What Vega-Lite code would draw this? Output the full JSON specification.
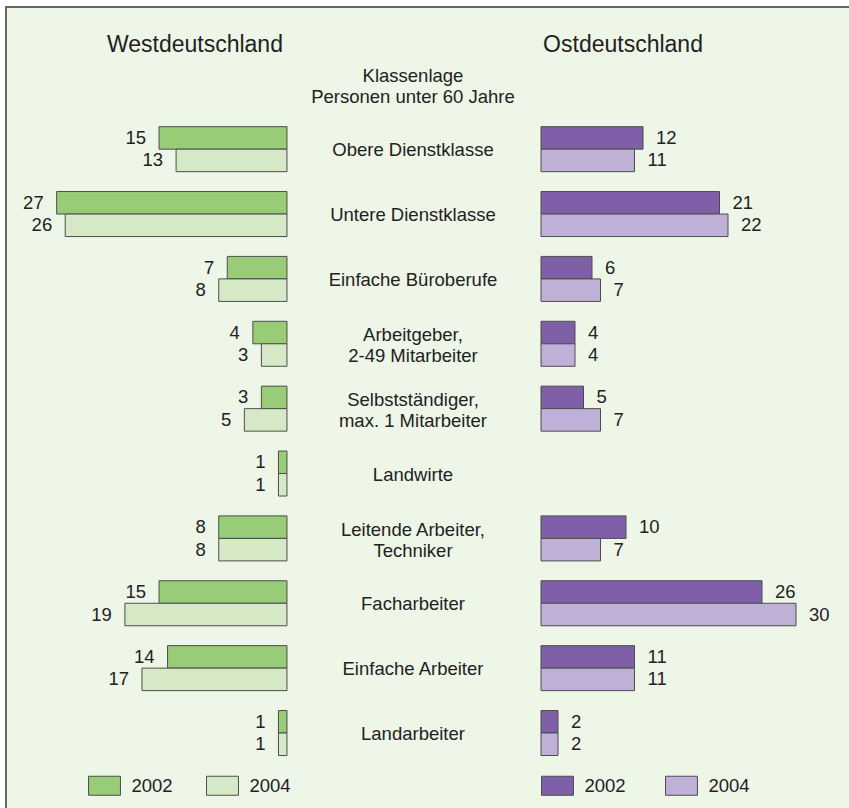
{
  "$schema": "https://vega.github.io/schema/vega-lite/v6.json",
  "width": 849,
  "height": 808,
  "autosize": {"type": "fit", "contains": "padding"},
  "padding": {"left": 6, "top": 7, "right": -6, "bottom": -6},
  "background": "white",
  "config": {
    "view": {"fill": "#eef6e8", "stroke": "#666666", "strokeWidth": 2},
    "font": "Liberation Sans",
    "text": {"font": "Liberation Sans", "fontSize": 18.5, "color": "#222222", "baseline": "middle"}
  },
  "datasets": {
    "d": [
      {"kl": "Obere Dienstklasse", "jahr": "2002", "west": 15, "ost": 12},
      {"kl": "Obere Dienstklasse", "jahr": "2004", "west": 13, "ost": 11},
      {"kl": "Untere Dienstklasse", "jahr": "2002", "west": 27, "ost": 21},
      {"kl": "Untere Dienstklasse", "jahr": "2004", "west": 26, "ost": 22},
      {"kl": "Einfache Büroberufe", "jahr": "2002", "west": 7, "ost": 6},
      {"kl": "Einfache Büroberufe", "jahr": "2004", "west": 8, "ost": 7},
      {"kl": "Arbeitgeber,\n2-49 Mitarbeiter", "jahr": "2002", "west": 4, "ost": 4},
      {"kl": "Arbeitgeber,\n2-49 Mitarbeiter", "jahr": "2004", "west": 3, "ost": 4},
      {"kl": "Selbstständiger,\nmax. 1 Mitarbeiter", "jahr": "2002", "west": 3, "ost": 5},
      {"kl": "Selbstständiger,\nmax. 1 Mitarbeiter", "jahr": "2004", "west": 5, "ost": 7},
      {"kl": "Landwirte", "jahr": "2002", "west": 1, "ost": null},
      {"kl": "Landwirte", "jahr": "2004", "west": 1, "ost": null},
      {"kl": "Leitende Arbeiter,\nTechniker", "jahr": "2002", "west": 8, "ost": 10},
      {"kl": "Leitende Arbeiter,\nTechniker", "jahr": "2004", "west": 8, "ost": 7},
      {"kl": "Facharbeiter", "jahr": "2002", "west": 15, "ost": 26},
      {"kl": "Facharbeiter", "jahr": "2004", "west": 19, "ost": 30},
      {"kl": "Einfache Arbeiter", "jahr": "2002", "west": 14, "ost": 11},
      {"kl": "Einfache Arbeiter", "jahr": "2004", "west": 17, "ost": 11},
      {"kl": "Landarbeiter", "jahr": "2002", "west": 1, "ost": 2},
      {"kl": "Landarbeiter", "jahr": "2004", "west": 1, "ost": 2}
    ],
    "k": [
      {"kl": "Klassenlage\nPersonen unter 60 Jahre"},
      {"kl": "Obere Dienstklasse"},
      {"kl": "Untere Dienstklasse"},
      {"kl": "Einfache Büroberufe"},
      {"kl": "Arbeitgeber,\n2-49 Mitarbeiter"},
      {"kl": "Selbstständiger,\nmax. 1 Mitarbeiter"},
      {"kl": "Landwirte"},
      {"kl": "Leitende Arbeiter,\nTechniker"},
      {"kl": "Facharbeiter"},
      {"kl": "Einfache Arbeiter"},
      {"kl": "Landarbeiter"}
    ],
    "t": [
      {"kl": "Klassenlage\nPersonen unter 60 Jahre", "region": "Westdeutschland", "pos": 10.79},
      {"kl": "Klassenlage\nPersonen unter 60 Jahre", "region": "Ostdeutschland", "pos": 9.65}
    ]
  },
  "data": {"name": "d"},
  "encoding": {
    "y": {
      "field": "kl",
      "type": "nominal",
      "axis": null,
      "scale": {
        "domain": [
          "Klassenlage\nPersonen unter 60 Jahre",
          "Obere Dienstklasse",
          "Untere Dienstklasse",
          "Einfache Büroberufe",
          "Arbeitgeber,\n2-49 Mitarbeiter",
          "Selbstständiger,\nmax. 1 Mitarbeiter",
          "Landwirte",
          "Leitende Arbeiter,\nTechniker",
          "Facharbeiter",
          "Einfache Arbeiter",
          "Landarbeiter"
        ],
        "paddingInner": 0.3063,
        "paddingOuter": 0.8733,
        "align": 0.4837,
        "round": false
      }
    }
  },
  "layer": [
    {
      "layer": [
        {
          "mark": {"type": "bar", "stroke": "#4d4d4d", "strokeWidth": 1},
          "encoding": {
            "x": {"field": "west", "type": "quantitative", "axis": null,
                  "scale": {"domain": [-66.59, 32.94], "reverse": true, "nice": false, "zero": false}},
            "x2": {"datum": 0},
            "yOffset": {"field": "jahr", "type": "nominal",
                        "scale": {"domain": ["2002", "2004"], "paddingInner": 0, "paddingOuter": 0}},
            "color": {
              "field": "jahr", "type": "nominal",
              "scale": {"domain": ["2002", "2004"], "range": ["#99cc77", "#d6e9c6"]},
              "legend": {
                "orient": "none", "legendX": 88.5, "legendY": 768.5, "direction": "horizontal",
                "title": null, "padding": 0,
                "symbolType": "M-1.68,-1H1.68V1H-1.68Z", "symbolSize": 361,
                "symbolStrokeColor": "#4d4d4d", "symbolStrokeWidth": 1, "symbolOpacity": 1,
                "labelFont": "Liberation Sans", "labelFontSize": 18.5, "labelColor": "#222222",
                "labelOffset": 17, "columnPadding": 31
              }
            }
          }
        },
        {
          "mark": {"type": "text", "align": "right", "dx": -13},
          "encoding": {
            "x": {"field": "west", "type": "quantitative"},
            "yOffset": {"field": "jahr", "type": "nominal"},
            "text": {"field": "west", "type": "quantitative"}
          }
        },
        {
          "data": {"name": "t"},
          "transform": [{"filter": "datum.region == 'Westdeutschland'"}],
          "mark": {"type": "text", "fontSize": 23, "dy": -39, "align": "center"},
          "encoding": {
            "x": {"field": "pos", "type": "quantitative"},
            "text": {"field": "region"}
          }
        },
        {
          "data": {"name": "k"},
          "transform": [{"filter": "indexof(datum.kl, '\\n') < 0"}],
          "mark": {"type": "text", "align": "center", "dy": 1},
          "encoding": {
            "x": {"datum": -14.77},
            "text": {"field": "kl"}
          }
        },
        {
          "data": {"name": "k"},
          "transform": [{"filter": "indexof(datum.kl, '\\n') >= 0"}],
          "mark": {"type": "text", "align": "center", "lineBreak": "\n", "lineHeight": 21, "dy": -8.8},
          "encoding": {
            "x": {"datum": -14.77},
            "text": {"field": "kl"}
          }
        }
      ]
    },
    {
      "transform": [{"filter": "datum.ost != null"}],
      "layer": [
        {
          "mark": {"type": "bar", "stroke": "#4d4d4d", "strokeWidth": 1},
          "encoding": {
            "x": {"field": "ost", "type": "quantitative", "axis": null,
                  "scale": {"domain": [-62.94, 36.94], "nice": false, "zero": false}},
            "x2": {"datum": 0},
            "yOffset": {"field": "jahr", "type": "nominal",
                        "scale": {"domain": ["2002", "2004"], "paddingInner": 0, "paddingOuter": 0}},
            "color": {
              "field": "jahr", "type": "nominal",
              "scale": {"domain": ["2002", "2004"], "range": ["#7f60a8", "#bfb0d7"]},
              "legend": {
                "orient": "none", "legendX": 541.5, "legendY": 768.5, "direction": "horizontal",
                "title": null, "padding": 0,
                "symbolType": "M-1.68,-1H1.68V1H-1.68Z", "symbolSize": 361,
                "symbolStrokeColor": "#4d4d4d", "symbolStrokeWidth": 1, "symbolOpacity": 1,
                "labelFont": "Liberation Sans", "labelFontSize": 18.5, "labelColor": "#222222",
                "labelOffset": 17, "columnPadding": 37
              }
            }
          }
        },
        {
          "mark": {"type": "text", "align": "left", "dx": 13},
          "encoding": {
            "x": {"field": "ost", "type": "quantitative"},
            "yOffset": {"field": "jahr", "type": "nominal"},
            "text": {"field": "ost", "type": "quantitative"}
          }
        },
        {
          "data": {"name": "t"},
          "transform": [{"filter": "datum.region == 'Ostdeutschland'"}],
          "mark": {"type": "text", "fontSize": 23, "dy": -39, "align": "center"},
          "encoding": {
            "x": {"field": "pos", "type": "quantitative"},
            "text": {"field": "region"}
          }
        }
      ]
    }
  ],
  "resolve": {"scale": {"x": "independent", "color": "independent"}, "legend": {"color": "independent"}}
}
